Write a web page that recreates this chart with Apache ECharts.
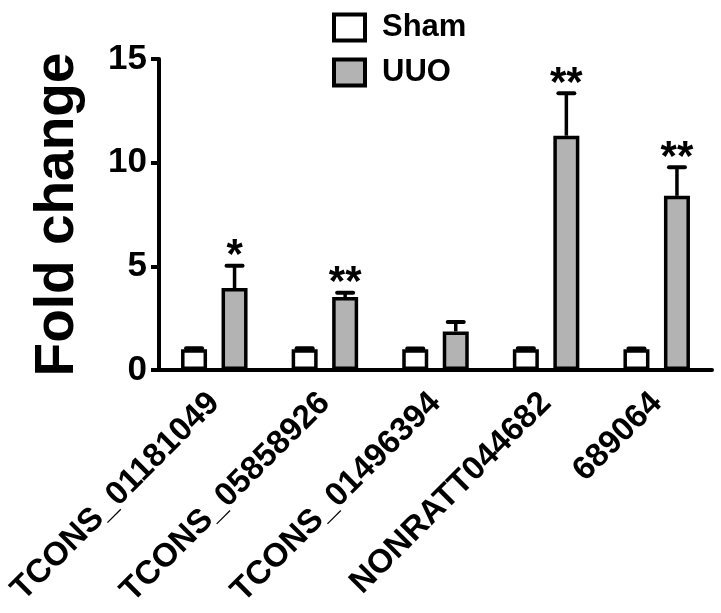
<!DOCTYPE html>
<html>
<head>
<meta charset="utf-8">
<script src="https://cdn.jsdelivr.net/npm/echarts@6/dist/echarts.min.js"></script>
<style>html,body{margin:0;padding:0;background:#fff}#c{width:721px;height:613px}</style>
</head>
<body>
<div id="c"></div>
<script>
var categories = ['TCONS_01181049', 'TCONS_05858926', 'TCONS_01496394', 'NONRATT044682', '689064'];
var shamValues = [1.0, 1.0, 1.0, 1.0, 1.0];
var shamErrors = [0.05, 0.05, 0.04, 0.05, 0.04];
var uuoValues = [3.95, 3.52, 1.86, 11.3, 8.4];
var uuoErrors = [1.08, 0.2, 0.46, 2.05, 1.38];
var uuoStars = ['*', '**', '', '**', '**'];
var yTicks = [0, 5, 10, 15];

var FONT = '"Liberation Sans", Arial, Helvetica, sans-serif';
var BAR_W = 26, GAP = 14.5;
var OFFSET = (BAR_W + GAP) / 2;

function errSeries(name, vals, errs, stars, dir) {
  var data = vals.map(function (v, i) { return [i, v, errs[i], stars ? stars[i] : '']; });
  return {
    type: 'custom', name: name, z: 5, silent: true,
    data: data,
    renderItem: function (params, api) {
      var i = api.value(0), v = api.value(1), e = api.value(2);
      var s = data[params.dataIndex][3];
      var base = api.coord([i, v]);
      var top = api.coord([i, v + e]);
      var x = base[0] + dir * OFFSET;
      var cap = 8;
      var children = [
        { type: 'line', shape: { x1: x, y1: base[1], x2: x, y2: top[1] }, style: { stroke: '#000', lineWidth: 3.5 } },
        { type: 'line', shape: { x1: x - cap, y1: top[1], x2: x + cap, y2: top[1] }, style: { stroke: '#000', lineWidth: 4, lineCap: 'round' } }
      ];
      if (s) {
        children.push({ type: 'text', style: { text: s, x: x, y: top[1] - 9, textAlign: 'center', textVerticalAlign: 'middle', font: 'bold 42px ' + FONT, fill: '#000' } });
      }
      return { type: 'group', children: children };
    }
  };
}

var chart = echarts.init(document.getElementById('c'));
chart.setOption({
  animation: false,
  backgroundColor: '#fff',
  legend: {
    orient: 'vertical', left: 327, top: 7,
    icon: 'rect',
    itemWidth: 31, itemHeight: 26, itemGap: 14,
    data: ['Sham', 'UUO'],
    itemStyle: { borderColor: '#000', borderWidth: 4 },
    textStyle: { fontFamily: FONT, fontWeight: 'bold', fontSize: 31, color: '#000', padding: [0, 0, 0, 12] }
  },
  grid: { left: 159, right: 9, top: 59, bottom: 243, containLabel: false },
  xAxis: {
    type: 'category', data: categories,
    axisLine: { lineStyle: { color: '#000', width: 4 } },
    axisTick: { alignWithLabel: true, length: 9, lineStyle: { color: '#000', width: 4 } },
    axisLabel: { rotate: 45, margin: 28, fontFamily: FONT, fontWeight: 'bold', fontSize: 33, color: '#000', interval: 0 }
  },
  yAxis: {
    type: 'value', min: 0, max: 15, interval: 5,
    name: 'Fold change', nameLocation: 'middle', nameGap: 74,
    nameTextStyle: { fontFamily: FONT, fontWeight: 'bold', fontSize: 55, color: '#000' },
    axisLine: { show: true, lineStyle: { color: '#000', width: 4 } },
    axisTick: { show: true, length: 8, lineStyle: { color: '#000', width: 4 } },
    splitLine: { show: false },
    axisLabel: { margin: 12, fontFamily: FONT, fontWeight: 'bold', fontSize: 35, color: '#000',
      formatter: function (v) { return yTicks.indexOf(v) >= 0 ? String(v) : ''; } }
  },
  series: [
    { type: 'bar', name: 'Sham', data: shamValues, barWidth: BAR_W, barGap: (GAP / BAR_W * 100) + '%', z: 3,
      itemStyle: { color: '#fff', borderColor: '#000', borderWidth: 3.5 } },
    { type: 'bar', name: 'UUO', data: uuoValues, barWidth: BAR_W, z: 3,
      itemStyle: { color: '#b3b3b3', borderColor: '#000', borderWidth: 3.5 } },
    errSeries('Sham err', shamValues, shamErrors, null, -1),
    errSeries('UUO err', uuoValues, uuoErrors, uuoStars, 1)
  ]
});
</script>
</body>
</html>
